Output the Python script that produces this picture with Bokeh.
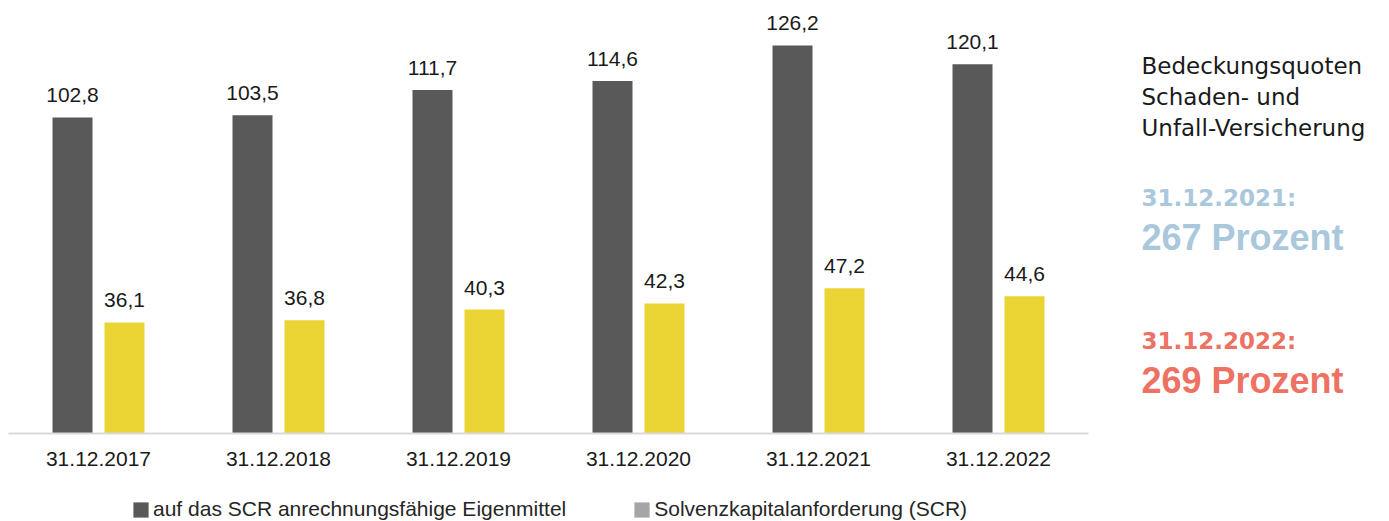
from bokeh.plotting import figure
from bokeh.models import (ColumnDataSource, Range1d, Legend, LegendItem, Label, LinearAxis, FixedTicker)
from bokeh.transform import dodge
from bokeh.core.properties import value
from bokeh.embed import file_html
from bokeh.resources import INLINE

# ---- data ----
dates = ["31.12.2017", "31.12.2018", "31.12.2019", "31.12.2020", "31.12.2021", "31.12.2022"]
eigenmittel = [102.8, 103.5, 111.7, 114.6, 126.2, 120.1]
scr = [36.1, 36.8, 40.3, 42.3, 47.2, 44.6]
series_names = ["auf das SCR anrechnungsfähige Eigenmittel", "Solvenzkapitalanforderung (SCR)"]
side_title = ["Bedeckungsquoten", "Schaden- und", "Unfall-Versicherung"]
side_dates = ["31.12.2021:", "31.12.2022:"]
side_values = ["267 Prozent", "269 Prozent"]

def fmt(v):
    return f"{v:.1f}".replace(".", ",")

pos = [i + 0.5 for i in range(len(dates))]   # category centres
src = ColumnDataSource(dict(
    pos=pos,
    eigen=eigenmittel,
    scr=scr,
    eigen_lbl=[fmt(v) for v in eigenmittel],
    scr_lbl=[fmt(v) for v in scr],
))

DARK = "#595959"
YELLOW = "#EBD534"
LEGEND_GRAY = "#A5A5A5"
BLUE = "#A9C8DC"
RED = "#EE7264"
FONT = "Liberation Sans"

p = figure(width=1389, height=521,
           x_range=Range1d(-0.04444, 7.67222), y_range=Range1d(-28.62, 140.81),
           output_backend="svg", toolbar_location=None,
           x_axis_location=None, y_axis_location=None, min_border=0)
p.outline_line_color = None
p.xgrid.visible = False
p.ygrid.visible = False

r1 = p.vbar(x=dodge("pos", -0.1444), top="eigen", width=0.2222,
            source=src, fill_color=DARK, line_color=None)
r2 = p.vbar(x=dodge("pos", 0.1444), top="scr", width=0.2222,
            source=src, fill_color=YELLOW, line_color=None)

p.text(x=dodge("pos", -0.1444), y="eigen", text="eigen_lbl", source=src,
       y_offset=-22, text_align="center", text_baseline="alphabetic",
       text_font=value(FONT), text_font_size="21px", text_color="#1a1a1a")
p.text(x=dodge("pos", 0.1444), y="scr", text="scr_lbl", source=src,
       y_offset=-22, text_align="center", text_baseline="alphabetic",
       text_font=value(FONT), text_font_size="21px", text_color="#1a1a1a")

ax = LinearAxis(ticker=FixedTicker(ticks=pos),
                major_label_overrides={pp: d for pp, d in zip(pos, dates)},
                fixed_location=0, bounds=(0, len(dates)))
ax.axis_line_color = "#D9D9D9"
ax.axis_line_width = 2
ax.major_tick_line_color = None
ax.minor_tick_line_color = None
ax.major_label_text_font = FONT
ax.major_label_text_font_size = "21px"
ax.major_label_text_color = "#1a1a1a"
ax.major_label_standoff = 13
p.add_layout(ax, "below")

# legend (second swatch is light gray in the original); zero-height bar only feeds the legend
swatch = p.vbar(x=[pos[0]], top=[0], bottom=[0], width=0, fill_color=LEGEND_GRAY, line_color=None)
legend = Legend(items=[LegendItem(label=series_names[0], renderers=[r1]),
                       LegendItem(label=series_names[1], renderers=[swatch])],
                orientation="horizontal", location=(131, 0),
                glyph_width=19, glyph_height=19, label_standoff=3, spacing=66,
                padding=0, margin=0, border_line_color=None, background_fill_alpha=0,
                label_text_font=FONT, label_text_font_size="21px", label_text_color="#262626")
p.add_layout(legend)

# right side text
x_side = 6.2944
for txt, y in zip(side_title, [119.4, 109.3, 99.2]):
    p.add_layout(Label(x=x_side, y=y, text=txt,
                       text_font="DejaVu Sans", text_font_size="23px", text_color="#1a1a1a",
                       text_baseline="alphabetic"))
for txt, y, c in zip(side_dates, [76.7, 30.2], [BLUE, RED]):
    p.add_layout(Label(x=x_side, y=y, text=txt,
                       text_font="DejaVu Sans", text_font_size="23px", text_font_style="bold",
                       text_color=c, text_baseline="alphabetic"))
for txt, y, c in zip(side_values, [63.7, 17.2], [BLUE, RED]):
    p.add_layout(Label(x=x_side, y=y, text=txt,
                       text_font="Liberation Sans", text_font_size="36px", text_font_style="bold",
                       text_color=c, text_baseline="alphabetic"))

open("out.html", "w").write(file_html(p, INLINE))
